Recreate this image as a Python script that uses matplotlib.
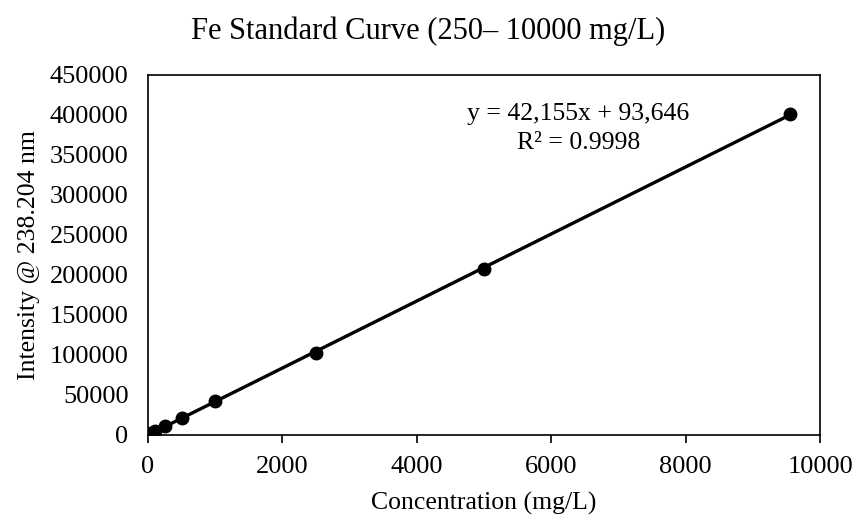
import numpy as np
import matplotlib
matplotlib.use("Agg")
from matplotlib import pyplot as plt

plt.rcParams["font.family"] = ["Liberation Serif", "DejaVu Serif"]

# Fe standards
conc = [0, 10, 50, 100, 250, 500, 1000, 2500, 5000, 9550]
intensity = [200, 600, 2300, 4400, 10600, 21000, 42000, 103000, 208000, 401000]

eq_text = "y = 42,155x + 93,646"
r2_text = "R² = 0.9998"

x_ticks = [0, 2000, 4000, 6000, 8000, 10000]
y_ticks = list(range(0, 450001, 50000))

fig = plt.figure(figsize=(8.57, 5.2), dpi=100)
ax = fig.add_axes([0.1727, 0.1635, 0.7843, 0.6925])

# linear trendline over the data range
slope, icept = np.polyfit(conc, intensity, 1)
xx = np.array([min(conc), max(conc)])
ax.plot(xx, slope * xx + icept, color="black", lw=2.4, zorder=2)
ax.plot(conc, intensity, "o", color="black", ms=9, zorder=3)

ax.set_xlim(0, 10000)
ax.set_ylim(0, 450000)
ax.set_xticks(x_ticks)
ax.set_yticks(y_ticks)
ax.tick_params(axis="x", direction="out", length=6, width=1.2, labelsize=19, pad=9)
ax.tick_params(axis="y", length=0, labelsize=19, pad=14)
for s in ax.spines.values():
    s.set_linewidth(1.2)

ax.set_xlabel("Concentration (mg/L)", fontsize=18.5, labelpad=10)
ax.set_ylabel("Intensity @ 238.204 nm", fontsize=18.5, labelpad=7)
fig.text(0.5, 0.925, "Fe Standard Curve (250– 10000 mg/L)", fontsize=22,
         ha="center", va="baseline")

ax.text(0.64, 0.892, eq_text, transform=ax.transAxes, ha="center", va="center", fontsize=18.5)
ax.text(0.64, 0.811, r2_text, transform=ax.transAxes, ha="center", va="center", fontsize=18.5)

fig.savefig("out.png", dpi=100)
